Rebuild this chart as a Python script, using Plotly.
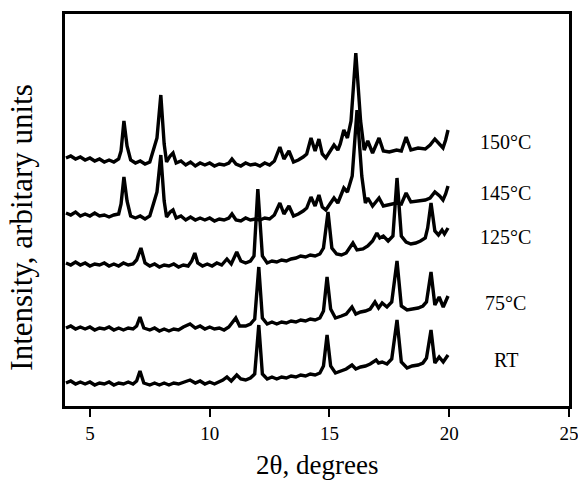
import plotly.graph_objects as go

# ---------------- data (2-theta in degrees, intensity in arbitrary display units, offsets included) -------------
x_150 = [4.0, 4.2, 4.4, 4.6, 4.8, 5.0, 5.2, 5.4, 5.6, 5.8, 6.0, 6.2, 6.3, 6.42, 6.55, 6.7, 6.9, 7.1, 7.3, 7.5,
         7.7, 7.8, 7.96, 8.1, 8.2, 8.35, 8.47, 8.6, 8.8, 9.0, 9.2, 9.4, 9.6, 9.8, 10.0, 10.2, 10.4, 10.6, 10.8,
         10.93, 11.1, 11.3, 11.5, 11.7, 11.9, 12.1, 12.3, 12.5, 12.7, 12.93, 13.1, 13.31, 13.5, 13.7, 13.9,
         14.05, 14.23, 14.4, 14.56, 14.7, 14.85, 15.0, 15.19, 15.35, 15.45, 15.6, 15.75, 15.9, 16.1, 16.3,
         16.45, 16.6, 16.8, 17.07, 17.25, 17.5, 17.8, 18.0, 18.2, 18.4, 18.7, 19.0, 19.2, 19.4, 19.6, 19.74,
         19.85, 19.95]
y_150 = [248, 250, 247, 249, 246, 248, 245, 247, 244, 246, 244, 247, 255, 285, 260, 246, 243, 245, 242, 244,
         260, 268, 311, 262, 244, 250, 253, 243, 245, 241, 244, 240, 243, 241, 243, 240, 242, 241, 243,
         247, 242, 240, 243, 241, 242, 240, 243, 241, 245, 259, 247, 255, 244, 246, 249,
         252, 268, 255, 267, 252, 248, 254, 261, 256, 262, 276, 268, 285, 353, 285,
         256, 265, 253, 268, 255, 254, 256, 255, 269, 256, 258, 257, 261, 267, 262, 258,
         266, 276]

x_145 = [4.0, 4.2, 4.4, 4.6, 4.8, 5.0, 5.2, 5.4, 5.6, 5.8, 6.0, 6.2, 6.3, 6.42, 6.55, 6.7, 6.9, 7.1, 7.3, 7.5,
         7.7, 7.8, 7.96, 8.1, 8.2, 8.35, 8.47, 8.6, 8.8, 9.0, 9.2, 9.4, 9.6, 9.8, 10.0, 10.2, 10.4, 10.6, 10.8,
         10.93, 11.1, 11.3, 11.5, 11.7, 11.9, 12.1, 12.3, 12.5, 12.7, 12.93, 13.1, 13.31, 13.5, 13.7, 13.9,
         14.05, 14.23, 14.4, 14.56, 14.7, 14.85, 15.0, 15.19, 15.35, 15.45, 15.6, 15.75, 15.95, 16.15, 16.35,
         16.5, 16.6, 16.8, 17.07, 17.25, 17.5, 17.8, 18.0, 18.2, 18.4, 18.7, 19.0, 19.2, 19.4, 19.6, 19.74,
         19.85, 19.95]
y_145 = [193, 191, 194, 190, 192, 190, 193, 190, 191, 189, 191, 192, 202, 229, 205, 190, 188, 190, 187, 190,
         206, 214, 251, 205, 189, 194, 196, 188, 190, 186, 189, 186, 188, 186, 188, 185, 187, 186, 188,
         192, 186, 185, 188, 186, 187, 186, 188, 187, 191, 203, 192, 200, 190, 192, 195,
         198, 209, 200, 211, 199, 196, 201, 208, 203, 209, 218, 214, 230, 296, 230,
         203, 208, 200, 208, 200, 201, 203, 202, 213, 204, 205, 206, 208, 214, 210, 206,
         212, 220]

x_125 = [4.0, 4.2, 4.4, 4.6, 4.8, 5.0, 5.2, 5.4, 5.6, 5.8, 6.0, 6.2, 6.4, 6.6, 6.8, 6.95, 7.13, 7.3, 7.5, 7.7,
         7.9, 8.1, 8.3, 8.5, 8.7, 8.9, 9.1, 9.25, 9.38, 9.5, 9.7, 9.9, 10.1, 10.3, 10.5, 10.72, 10.9, 11.13,
         11.3, 11.5, 11.7, 11.85, 12.01, 12.2, 12.4, 12.6, 12.8, 13.0, 13.2, 13.4, 13.6, 13.8, 14.0, 14.2,
         14.4, 14.6, 14.75, 14.94, 15.1, 15.3, 15.5, 15.7, 15.98, 16.15, 16.4, 16.6, 16.8, 16.98, 17.1, 17.25,
         17.45, 17.65, 17.82, 18.0, 18.2, 18.4, 18.6, 18.8, 19.0, 19.1, 19.24, 19.4, 19.55, 19.7, 19.8, 19.95]
y_125 = [143, 141, 144, 141, 143, 140, 142, 141, 143, 140, 142, 140, 143, 141, 142, 146, 158, 143, 140, 142,
         139, 141, 140, 142, 139, 141, 140, 145, 153, 143, 140, 142, 140, 143, 141, 147, 142, 154,
         145, 143, 145, 150, 217, 150, 143, 145, 144, 146, 145, 147, 148, 150, 149, 151,
         150, 152, 158, 194, 158, 152, 151, 153, 163, 156, 157, 160, 165, 173, 168, 170,
         165, 170, 228, 170, 164, 162, 163, 165, 168, 178, 203, 175, 171, 176, 172, 178]

x_75 = [4.0, 4.2, 4.4, 4.6, 4.8, 5.0, 5.2, 5.4, 5.6, 5.8, 6.0, 6.2, 6.4, 6.6, 6.8, 6.95, 7.09, 7.25, 7.5, 7.7,
        7.9, 8.1, 8.3, 8.5, 8.7, 8.9, 9.18, 9.4, 9.6, 9.8, 10.0, 10.2, 10.4, 10.6, 10.8, 10.95, 11.09, 11.25,
        11.5, 11.7, 11.88, 12.05, 12.2, 12.4, 12.6, 12.8, 13.0, 13.2, 13.4, 13.6, 13.8, 14.0, 14.2, 14.4,
        14.6, 14.75, 14.9, 15.05, 15.25, 15.5, 15.7, 15.94, 16.1, 16.3, 16.5, 16.7, 16.9, 17.05, 17.2, 17.4,
        17.6, 17.82, 18.0, 18.24, 18.45, 18.7, 18.9, 19.05, 19.24, 19.4, 19.58, 19.75, 19.95]
y_75 = [78, 80, 77, 79, 77, 79, 76, 78, 77, 79, 76, 78, 76, 78, 77, 80, 89, 78, 76, 78,
        75, 77, 75, 77, 76, 79, 82, 78, 80, 77, 79, 77, 78, 76, 79, 83, 88, 80,
        80, 82, 87, 139, 88, 82, 84, 82, 84, 83, 85, 84, 86, 85, 87, 86,
        88, 95, 129, 97, 88, 90, 92, 99, 92, 94, 95, 97, 104, 98, 103, 99,
        104, 145, 100, 96, 97, 98, 100, 104, 134, 101, 109, 99, 110]

x_rt = [4.0, 4.2, 4.4, 4.6, 4.8, 5.0, 5.2, 5.4, 5.6, 5.8, 6.0, 6.2, 6.4, 6.6, 6.8, 6.95, 7.09, 7.25, 7.5, 7.7,
        7.9, 8.1, 8.3, 8.5, 8.7, 8.9, 9.18, 9.4, 9.6, 9.8, 10.0, 10.2, 10.4, 10.55, 10.72, 10.9, 11.13, 11.3,
        11.5, 11.7, 11.88, 12.05, 12.2, 12.4, 12.6, 12.8, 13.0, 13.2, 13.4, 13.6, 13.8, 14.0, 14.2, 14.4,
        14.6, 14.75, 14.9, 15.05, 15.25, 15.5, 15.7, 15.94, 16.1, 16.3, 16.5, 16.7, 16.95, 17.05, 17.2, 17.4,
        17.6, 17.82, 18.0, 18.24, 18.45, 18.7, 18.9, 19.05, 19.24, 19.4, 19.58, 19.75, 19.95]
y_rt = [23, 25, 22, 24, 22, 24, 21, 23, 22, 24, 21, 23, 22, 24, 22, 25, 35, 23, 21, 23,
        21, 23, 21, 23, 22, 24, 26, 23, 25, 22, 24, 22, 24, 26, 29, 25, 31, 27,
        26, 28, 32, 81, 32, 27, 29, 27, 29, 28, 30, 29, 31, 30, 32, 31,
        33, 40, 71, 40, 33, 35, 37, 41, 37, 39, 40, 42, 46, 43, 44, 42,
        47, 86, 44, 38, 40, 41, 43, 48, 76, 43, 49, 44, 51]

series_names = ["150°C", "145°C", "125°C", "75°C", "RT"]
series_x = [x_150, x_145, x_125, x_75, x_rt]
series_y = [y_150, y_145, y_125, y_75, y_rt]
label_levels = [264, 213, 169, 103, 46]
x_tick_values = [5, 10, 15, 20, 25]
x_tick_labels = ["5", "10", "15", "20", "25"]

# ---------------- figure -------------
FONT = "Liberation Serif, Times New Roman, serif"
fig = go.Figure()
for name, xs, ys in zip(series_names, series_x, series_y):
    fig.add_trace(go.Scatter(x=xs, y=ys, mode="lines", name=name,
                             line=dict(color="black", width=3.4), showlegend=False))

for name, lvl in zip(series_names, label_levels):
    fig.add_annotation(x=22.35, y=lvl, text=name, showarrow=False, xanchor="center", yanchor="middle",
                       font=dict(family=FONT, size=20, color="black"))

fig.add_annotation(x=0, y=0.455, xref="paper", yref="paper", xshift=-43, text="Intensity, arbitary units",
                   textangle=-90, showarrow=False, xanchor="center", yanchor="middle",
                   font=dict(family=FONT, size=31, color="black"))

fig.add_annotation(x=0.5, y=0, xref="paper", yref="paper", yshift=-59, text="2θ, degrees",
                   showarrow=False, xanchor="center", yanchor="middle",
                   font=dict(family=FONT, size=27, color="black"))

fig.update_layout(
    width=578, height=483,
    margin=dict(l=65, r=9, t=14, b=77, autoexpand=False),
    paper_bgcolor="white", plot_bgcolor="white",
    font=dict(family=FONT, color="black"),
    xaxis=dict(range=[3.96, 25], tickvals=x_tick_values, ticktext=x_tick_labels,
               ticks="outside", ticklen=8, tickwidth=1.5, tickcolor="black",
               showline=True, linecolor="black", linewidth=3, mirror=True, automargin=False,
               ticklabeloverflow="allow",
               showgrid=False, zeroline=False, tickfont=dict(family=FONT, size=19)),
    yaxis=dict(range=[0, 392], showticklabels=False, ticks="", automargin=False,
               showline=True, linecolor="black", linewidth=3, mirror=True,
               showgrid=False, zeroline=False),
)

fig.write_html("out.html", config={"displayModeBar": False},
               post_script="document.body.style.margin='0';document.body.style.overflow='hidden';")
